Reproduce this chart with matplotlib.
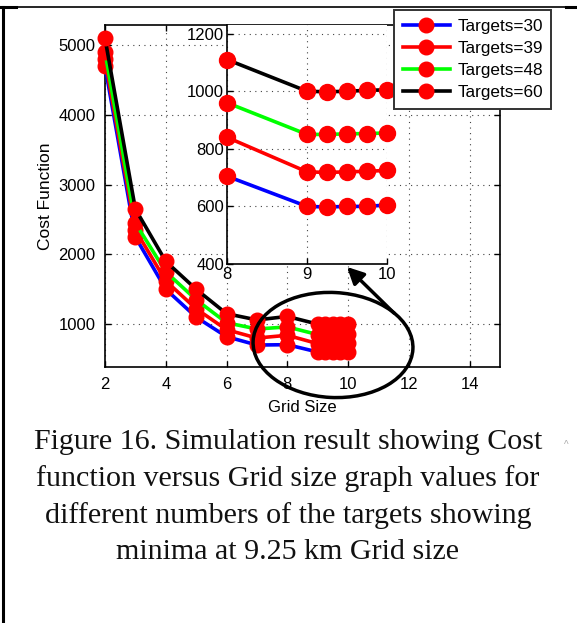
import numpy as np
import matplotlib
matplotlib.use('Agg')
import matplotlib.pyplot as plt
from matplotlib.patches import Ellipse
from matplotlib.lines import Line2D

# grid sizes and cost values
grid_size = [2, 3, 4, 5, 6, 7, 8, 9, 9.25, 9.5, 9.75, 10]
cost_t30 = [4700, 2250, 1500, 1100, 820, 700, 705, 600, 598, 600, 600, 605]
cost_t39 = [4800, 2350, 1620, 1220, 920, 800, 840, 720, 718, 720, 722, 725]
cost_t48 = [4900, 2450, 1750, 1350, 1020, 930, 960, 850, 850, 852, 853, 855]
cost_t60 = [5100, 2650, 1900, 1500, 1150, 1060, 1110, 1000, 998, 1000, 1003, 1005]

labels = ['Targets=30', 'Targets=39', 'Targets=48', 'Targets=60']
colors = ['#0000ff', '#ff0000', '#00ff00', '#000000']
series = [cost_t30, cost_t39, cost_t48, cost_t60]

main_xticks = [2, 4, 6, 8, 10, 12, 14]
main_yticks = [1000, 2000, 3000, 4000, 5000]
inset_xticks = [8, 9, 10]
inset_yticks = [400, 600, 800, 1000, 1200]

caption = ("Figure 16. Simulation result showing Cost\n"
           "function versus Grid size graph values for\n"
           "different numbers of the targets showing\n"
           "minima at 9.25 km Grid size")

plt.rcParams['font.family'] = ['Liberation Sans', 'DejaVu Sans']

W, H = 577, 623
fig = plt.figure(figsize=(W / 100, H / 100), dpi=100)


def px_box(left, top, right, bottom):
    # pixel box (from top-left) -> figure fraction rect
    return [left / W, 1 - bottom / H, (right - left) / W, (bottom - top) / H]


# main axes
ax = fig.add_axes(px_box(105, 25, 500, 367))
for vals, c, lab in zip(series, colors, labels):
    ax.plot(grid_size, vals, '-o', color=c, lw=2.6, ms=10.5,
            mfc='#ff0000', mec='#ff0000', label=lab, zorder=3, clip_on=False)
ax.set_xlim(2, 15)
ax.set_ylim(385, 5290)
ax.set_xticks(main_xticks)
ax.set_yticks(main_yticks)
ax.tick_params(direction='in', length=4, labelsize=12, top=True, right=True,
               width=1, pad=7)
ax.grid(True, linestyle=(0, (1, 4)), color='#444444', lw=0.8)
ax.set_xlabel('Grid Size', fontsize=12, labelpad=6)
ax.set_ylabel('Cost Function', fontsize=12.5, labelpad=4)
for s in ax.spines.values():
    s.set_linewidth(1.2)

# zoomed inset (grid sizes 8..10 only)
zoom = np.array(grid_size) >= 8
axi = fig.add_axes(px_box(227, 25, 387, 264))
axi.set_facecolor('white')
for vals, c in zip(series, colors):
    axi.plot(np.array(grid_size)[zoom], np.array(vals)[zoom], '-o', color=c,
             lw=2.6, ms=11.5, mfc='#ff0000', mec='#ff0000', zorder=3,
             clip_on=False)
axi.set_xlim(8, 10)
axi.set_ylim(400, 1230)
axi.set_xticks(inset_xticks)
axi.set_yticks(inset_yticks)
axi.spines['top'].set_visible(False)
axi.spines['right'].set_visible(False)
for s in ['left', 'bottom']:
    axi.spines[s].set_linewidth(1.2)
axi.tick_params(direction='in', length=4, labelsize=12, width=1, pad=2)
axi.grid(True, linestyle=(0, (1, 4)), color='#444444', lw=0.8)

# legend
leg = fig.legend(loc='upper left', bbox_to_anchor=(394 / W, 1 - 10 / H),
                 fontsize=12.3, handlelength=2.8, labelspacing=0.42,
                 borderaxespad=0, borderpad=0.5, handletextpad=0.4,
                 fancybox=False, framealpha=1)
leg.get_frame().set_edgecolor('#333333')
leg.get_frame().set_linewidth(1.4)

# ellipse around the minimum and arrow to inset
ell = Ellipse((333, H - 345), 160, 105, angle=-3, fill=False, lw=2.5,
              color='black', transform=None)
fig.add_artist(ell)
ax.annotate('', xy=(345, H - 265), xycoords='figure pixels',
            xytext=(396, H - 315), textcoords='figure pixels',
            arrowprops=dict(arrowstyle='-|>,head_length=1.0,head_width=0.5',
                            color='black', lw=2.5))

# page border bits
fig.add_artist(Line2D([0, 566 / W], [1 - 7 / H, 1 - 7 / H], color='black', lw=1.2))
fig.add_artist(Line2D([0, 16 / W], [1 - 7 / H, 1 - 7 / H], color='black', lw=2.2))
fig.add_artist(Line2D([566 / W, 1], [1 - 7 / H, 1 - 7 / H], color='black', lw=2.2))
fig.add_artist(Line2D([3 / W, 3 / W], [0, 1 - 7 / H], color='black', lw=2.2))

# caption
fig.text(288 / W, 1 - 497 / H, caption, ha='center', va='center',
         fontsize=21.6, family=['Liberation Serif'], linespacing=1.47,
         color='#111111')
fig.text(566 / W, 1 - 445 / H, '^', ha='center', va='center', fontsize=7,
         color='#aaaaaa')

fig.savefig('out.png', dpi=100)
